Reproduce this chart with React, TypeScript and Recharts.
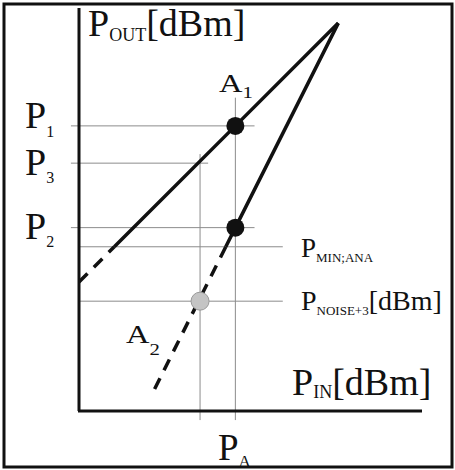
import React from 'react';
import {
  LineChart,
  Line,
  XAxis,
  YAxis,
  ReferenceLine,
  ReferenceDot,
} from 'recharts';

// Input / output power, both axes in dB units
const X_DOMAIN: [number, number] = [0, 34];
const Y_DOMAIN: [number, number] = [0, 40];

// Linear (1:1) response, solid part and its extrapolation
const gainSolid = [
  { x: 3.5, y: 16.3 },
  { x: 15.5, y: 28.3 },
  { x: 25.7, y: 38.5 },
];
const gainDashed = [
  { x: 0, y: 12.8 },
  { x: 3.5, y: 16.3 },
];

// Steeper (2:1) response
const steepSolid = [
  { x: 14.55, y: 16.3 },
  { x: 15.5, y: 18.2 },
  { x: 25.7, y: 38.5 },
];
const steepDashed = [
  { x: 14.55, y: 16.3 },
  { x: 7.3, y: 1.8 },
];

// Output levels: P1, P3, P2, P_MIN;ANA, P_NOISE+3
const levelP1 = 28.3;
const levelP3 = 24.6;
const levelP2 = 18.2;
const levelMin = 16.3;
const levelNoise = 10.9;

// Input levels: noise crossing and P_A
const inputNoise = 12;
const inputPA = 15.5;

const GRID = '#8c8c8c';
const INK = '#111';
const SERIF = '"Liberation Serif", "Times New Roman", serif';

type SubProps = {
  x: number;
  y: number;
  main: string;
  sub: string;
  tail?: string;
  size: number;
  subSize: number;
  drop: number;
  stretch?: number;
};

// Text with a subscript, optionally followed by a normal-size tail
function SubLabel({ x, y, main, sub, tail, size, subSize, drop, stretch = 1 }: SubProps) {
  return (
    <text
      transform={`translate(${x},${y}) scale(${stretch},1)`}
      fontFamily={SERIF}
      fontSize={size}
      fill={INK}
    >
      <tspan>{main}</tspan>
      <tspan fontSize={subSize} dy={drop}>
        {sub}
      </tspan>
      {tail ? <tspan dy={-drop}>{tail}</tspan> : null}
    </text>
  );
}

export default function App() {
  const seg = (x1: number, y1: number, x2: number, y2: number) => [
    { x: x1, y: y1 },
    { x: x2, y: y2 },
  ];

  return (
    <div style={{ position: 'absolute', left: 0, top: 0, width: 455, height: 470, background: '#fff' }}>
      <LineChart width={455} height={470} margin={{ top: 8, right: 33, bottom: 59, left: 79 }}>
        <XAxis type="number" dataKey="x" domain={X_DOMAIN} allowDataOverflow hide />
        <YAxis type="number" dataKey="y" domain={Y_DOMAIN} allowDataOverflow hide />

        <ReferenceLine segment={seg(-0.8, levelP1, 17.4, levelP1)} stroke={GRID} ifOverflow="visible" />
        <ReferenceLine segment={seg(-0.8, levelP3, 12.8, levelP3)} stroke={GRID} ifOverflow="visible" />
        <ReferenceLine segment={seg(-0.8, levelP2, 17.4, levelP2)} stroke={GRID} ifOverflow="visible" />
        <ReferenceLine segment={seg(0, levelMin, 20.2, levelMin)} stroke={GRID} ifOverflow="visible" />
        <ReferenceLine segment={seg(0, levelNoise, 20.2, levelNoise)} stroke={GRID} ifOverflow="visible" />
        <ReferenceLine segment={seg(inputNoise, 25.5, inputNoise, -0.9)} stroke={GRID} ifOverflow="visible" />
        <ReferenceLine segment={seg(inputPA, 31.1, inputPA, -0.9)} stroke={GRID} ifOverflow="visible" />

        {/* axis lines, drawn as plain segments */}
        <ReferenceLine segment={seg(0, 0, 0, 40)} stroke={INK} strokeWidth={3} ifOverflow="visible" />
        <ReferenceLine segment={seg(-0.1, 0, 34, 0)} stroke={INK} strokeWidth={3} ifOverflow="visible" />

        <Line data={gainSolid} dataKey="y" type="linear" stroke={INK} strokeWidth={3.5} dot={false} activeDot={false} isAnimationActive={false} />
        <Line data={gainDashed} dataKey="y" type="linear" stroke={INK} strokeWidth={3.5} strokeDasharray="12 9" dot={false} activeDot={false} isAnimationActive={false} />
        <Line data={steepSolid} dataKey="y" type="linear" stroke={INK} strokeWidth={3.5} dot={false} activeDot={false} isAnimationActive={false} />
        <Line data={steepDashed} dataKey="y" type="linear" stroke={INK} strokeWidth={3.5} strokeDasharray="12 9" dot={false} activeDot={false} isAnimationActive={false} />

        <ReferenceDot x={inputPA} y={levelP1} r={9} fill={INK} stroke="none" ifOverflow="visible" />
        <ReferenceDot x={inputPA} y={levelP2} r={9} fill={INK} stroke="none" ifOverflow="visible" />
        <ReferenceDot x={inputNoise} y={levelNoise} r={9} fill="#c4c4c4" stroke="#9a9a9a" strokeWidth={1} ifOverflow="visible" />
      </LineChart>

      <svg
        width={455}
        height={470}
        style={{ position: 'absolute', left: 0, top: 0, pointerEvents: 'none' }}
      >
        <SubLabel x={88} y={36} main="P" sub="OUT" tail="[dBm]" size={38} subSize={18} drop={5} />
        <SubLabel x={292} y={395} main="P" sub="IN" tail="[dBm]" size={38} subSize={18} drop={3} />
        <SubLabel x={25} y={128} main="P" sub="1" size={38} subSize={16} drop={9} />
        <SubLabel x={25} y={175} main="P" sub="3" size={38} subSize={16} drop={8} />
        <SubLabel x={25} y={239} main="P" sub="2" size={38} subSize={16} drop={8} />
        <SubLabel x={301} y={257} main="P" sub="MIN;ANA" size={27} subSize={13} drop={5} />
        <SubLabel x={301} y={310} main="P" sub="NOISE+3" tail="[dBm]" size={28} subSize={13} drop={5} />
        <SubLabel x={218} y={460} main="P" sub="A" size={37} subSize={17} drop={7} />
        <SubLabel x={219} y={92} main="A" sub="1" size={25} subSize={16} drop={6} stretch={1.3} />
        <SubLabel x={126} y={343} main="A" sub="2" size={25} subSize={16} drop={12} stretch={1.3} />
        <rect x={4} y={4} width={448} height={463} fill="none" stroke={INK} strokeWidth={3} />
      </svg>
    </div>
  );
}
